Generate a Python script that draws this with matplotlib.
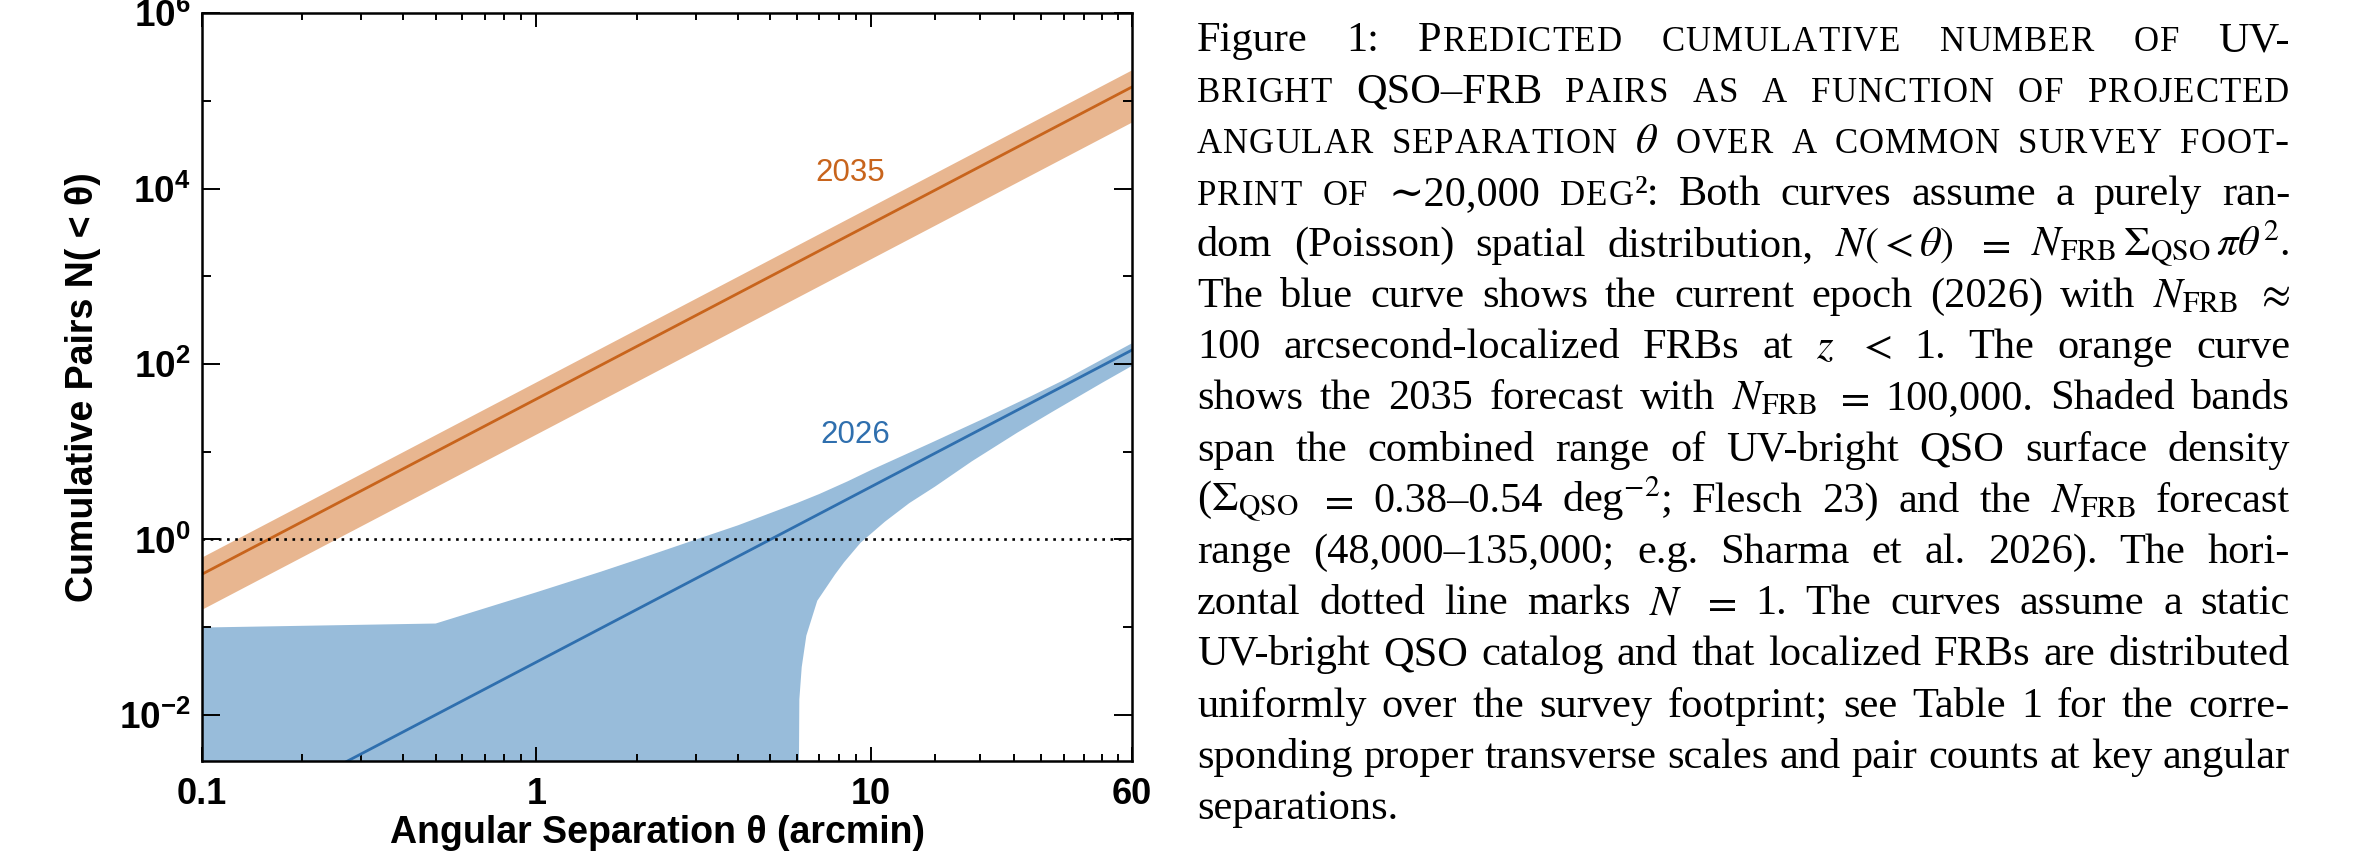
import re
import numpy as np
import matplotlib
matplotlib.use("Agg")
import matplotlib.pyplot as plt
from matplotlib.ticker import FixedLocator, FuncFormatter, NullFormatter
from matplotlib.transforms import IdentityTransform

plt.rcParams["mathtext.fontset"] = "custom"
plt.rcParams["mathtext.rm"] = "Liberation Sans"
plt.rcParams["mathtext.bf"] = "Liberation Sans:bold"
plt.rcParams["mathtext.it"] = "Liberation Sans:italic"
plt.rcParams["font.family"] = ["Liberation Sans", "DejaVu Sans"]

# ---- values ----
theta = [0.1, 1.0, 10.0, 60.0]                    # arcmin
n_2035 = [0.40, 40.0, 4000.0, 144000.0]
n_2035_lo = [0.16, 16.0, 1600.0, 57600.0]
n_2035_hi = [0.63, 63.0, 6300.0, 226800.0]
n_2026 = [4.0e-4, 0.04, 4.0, 144.0]

theta_2026_hi = [0.1, 0.5, 1.0, 1.56, 2.0, 3.0, 4.0, 5.0, 6.0, 7.0, 8.5, 10.0, 15.0, 22.0, 30.0, 38.0, 60.0]
n_2026_hi = [0.099, 0.11, 0.25, 0.43, 0.59, 1.0, 1.45, 2.0, 2.6, 3.3, 4.6, 6.2, 12.5, 24.5, 43.0, 67.0, 172.0]
theta_2026_lo = [6.05, 6.1, 6.2, 6.4, 6.9, 7.8, 8.3, 9.3, 11.0, 13.0, 15.5, 20.0, 27.3, 35.0, 48.9, 60.0]
n_2026_lo = [1e-4, 0.015, 0.035, 0.08, 0.2, 0.4, 0.55, 0.92, 1.6, 2.6, 4.0, 7.8, 16.5, 29.0, 61.0, 95.0]
n_floor = 1e-4          # band runs off the bottom of the plot
n_one = 1.0             # dotted reference line

xticks = [0.1, 1, 10, 60]
xticklabels = ["0.1", "1", "10", "60"]
yticks = [1e-2, 1e0, 1e2, 1e4, 1e6]

caption = [
    "Figure 1: [Predicted] [cumulative] [number] [of] UV-",
    "[bright] QSO–FRB [pairs] [as] [a] [function] [of] [projected]",
    r"[angular] [separation] $\theta$ [over] [a] [common] [survey] [foot-]",
    "[print] [of] \u223c20,000\u00a0[deg]²: Both curves assume a purely ran-",
    r"dom (Poisson) spatial distribution, $N(<\theta)$ $=$ $N_\mathrm{FRB}\,\Sigma_\mathrm{QSO}\,\pi\theta^2$.",
    r"The blue curve shows the current epoch (2026) with $N_\mathrm{FRB}$ $\approx$",
    r"100 arcsecond-localized FRBs at $z$ $<$ 1.  The orange curve",
    r"shows the 2035 forecast with $N_\mathrm{FRB}$ $=$ 100,000. Shaded bands",
    "span the combined range of UV-bright QSO surface density",
    r"($\Sigma_\mathrm{QSO}$ $=$ 0.38–0.54" + "\u00a0" + r"deg$^{-2}$; Flesch 23) and the $N_\mathrm{FRB}$ forecast",
    "range (48,000–135,000; e.g.  Sharma et al.  2026).  The hori-",
    r"zontal dotted line marks $N$ $=$ 1.  The curves assume a static",
    "UV-bright QSO catalog and that localized FRBs are distributed",
    "uniformly over the survey footprint; see Table 1 for the corre-",
    "sponding proper transverse scales and pair counts at key angular",
    "separations.",
]

orange_line = "#c8641c"
orange_band = "#e8b690"
blue_line = "#2f6fae"
blue_band = "#98bcda"

W, H, DPI = 2373, 860, 100
fig = plt.figure(figsize=(W / DPI, H / DPI), dpi=DPI)
ax = fig.add_axes([201.7 / W, 1 - 760.7 / H, 930 / W, 747.4 / H])
ax.set_xscale("log")
ax.set_yscale("log")

# bands
ax.fill_between(theta, n_2035_lo, n_2035_hi, color=orange_band, lw=0)
bx = theta_2026_hi + theta_2026_lo[::-1] + [theta_2026_lo[0], theta_2026_hi[0]]
by = n_2026_hi + n_2026_lo[::-1] + [n_floor, n_floor]
ax.fill(bx, by, color=blue_band, lw=0)

# lines
ax.plot(theta, n_2035, color=orange_line, lw=2.0)
ax.plot(theta, n_2026, color=blue_line, lw=2.0)
ax.axhline(n_one, color="black", lw=1.9, ls=(0, (1, 2.1)))

ax.text(8.66, 1.5e4, "2035", color=orange_line, fontsize=22.5, ha="center", va="center")
ax.text(8.93, 15.5, "2026", color=blue_line, fontsize=22.5, ha="center", va="center")

ax.set_xlim(0.1, 60)
ax.set_ylim(3e-3, 1e6)

x_minor = [k * 0.1 for k in range(2, 10)] + list(range(2, 10)) + [10 + k * 50 / 9 for k in range(1, 9)]
ax.xaxis.set_major_locator(FixedLocator(xticks))
ax.xaxis.set_minor_locator(FixedLocator(x_minor))
ax.xaxis.set_major_formatter(FuncFormatter(lambda v, p: xticklabels[xticks.index(v)] if v in xticks else ""))
ax.xaxis.set_minor_formatter(NullFormatter())
ax.yaxis.set_major_locator(FixedLocator(yticks))
ax.yaxis.set_minor_locator(FixedLocator([1e-1, 1e1, 1e3, 1e5]))
ax.yaxis.set_major_formatter(FuncFormatter(lambda v, p: r"$\mathbf{10^{%d}}$" % round(np.log10(v))))
ax.yaxis.set_minor_formatter(NullFormatter())

ax.tick_params(which="both", direction="in", top=True, right=True, width=1.4, color="black")
ax.tick_params(axis="y", which="major", length=13, pad=8, labelsize=26.5)
ax.tick_params(axis="y", which="minor", length=6.5)
ax.tick_params(axis="x", which="major", length=10, pad=12, labelsize=26)
ax.tick_params(axis="x", which="minor", length=5)
for lab in ax.get_xticklabels():
    lab.set_fontweight("bold")
for sp in ax.spines.values():
    sp.set_linewidth(1.8)

ax.set_xlabel("Angular Separation θ (arcmin)", fontsize=27, fontweight="bold")
ax.set_ylabel("Cumulative Pairs N( < θ)", fontsize=27, fontweight="bold")
ax.xaxis.set_label_coords(0.49, -0.072)
ax.yaxis.set_label_coords(-0.108, 0.5)

# ---- caption, set as justified text ----
cap_size = 30.5
sc_scale = 0.82
sc_track = 1.0
left, right = 1197, 2290
base0, lead = H - 51, 51.2
serif = ["Liberation Serif", "DejaVu Serif"]
renderer = fig.canvas.get_renderer()


def word_runs(word):
    # runs of (text, size scale, extra tracking after it)
    runs = []
    for m in re.finditer(r"\[([^\]]*)\]|([^\[]+)", word):
        if m.group(1) is not None:
            for ch in m.group(1):
                if ch.islower():
                    runs.append((ch.upper(), sc_scale, sc_track))
                else:
                    runs.append((ch, 1.0, sc_track))
        else:
            runs.append((m.group(2), 1.0, 0.0))
    return runs


for i, line in enumerate(caption):
    y = base0 - i * lead
    words = []
    for w in line.split():
        items = []
        wid = 0.0
        for txt, s, trk in word_runs(w):
            t = fig.text(0, y, txt, fontsize=cap_size * s, family=serif,
                         math_fontfamily="stix", transform=IdentityTransform(),
                         ha="left", va="baseline")
            tw = t.get_window_extent(renderer).width + trk
            items.append((t, tw))
            wid += tw
        words.append((items, wid))
    total = sum(w for _, w in words)
    if i < len(caption) - 1 and len(words) > 1:
        gap = (right - left - total) / (len(words) - 1)
    else:
        gap = 0.25 * cap_size * DPI / 72
    x = left
    for items, wid in words:
        for t, tw in items:
            t.set_position((x, y))
            x += tw
        x += gap

fig.savefig("out.png", dpi=DPI)
